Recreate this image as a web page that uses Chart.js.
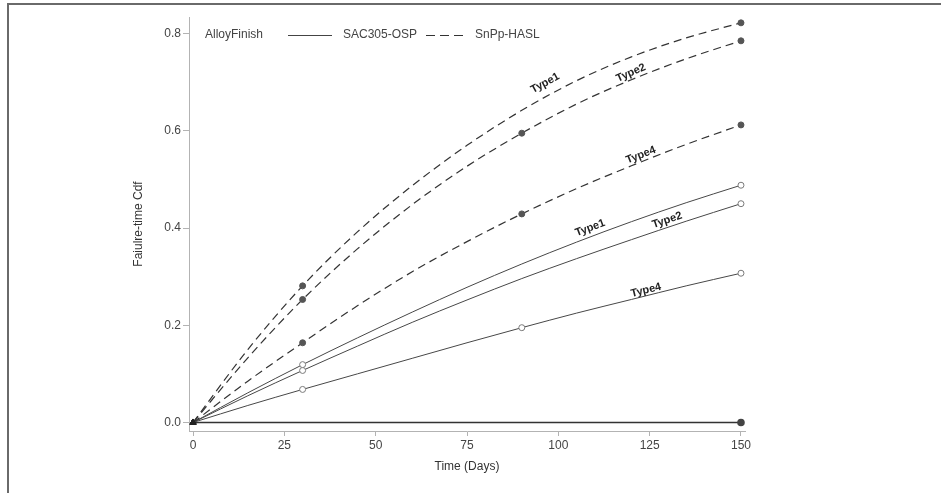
<!DOCTYPE html>
<html>
<head>
<meta charset="utf-8">
<script src="https://cdn.jsdelivr.net/npm/chart.js@4.4.0/dist/chart.umd.min.js"></script>
<style>
  html, body { margin: 0; padding: 0; background: #fff; overflow: hidden; }
  #frame { position: absolute; left: 7px; top: 3px; width: 980px; height: 540px;
           border-top: 2px solid #6a6a6a; border-left: 2px solid #6a6a6a; }
  #wrap { position: absolute; left: 0; top: 0; width: 941px; height: 493px; }
</style>
</head>
<body>
<div id="frame"></div>
<div id="wrap"><canvas id="myChart" width="941" height="493"></canvas></div>
<script>
// data
const days = [0, 15, 30, 45, 60, 75, 90, 105, 120, 135, 150];
const snType1 = [0, 0.150, 0.281, 0.392, 0.487, 0.570, 0.642, 0.703, 0.752, 0.791, 0.822];
const snType2 = [0, 0.133, 0.253, 0.357, 0.448, 0.527, 0.595, 0.655, 0.705, 0.748, 0.785];
const snType4 = [0, 0.085, 0.164, 0.240, 0.310, 0.372, 0.429, 0.481, 0.528, 0.572, 0.612];
const sacType1 = [0, 0.061, 0.119, 0.174, 0.227, 0.278, 0.326, 0.371, 0.413, 0.452, 0.488];
const sacType2 = [0, 0.055, 0.107, 0.157, 0.206, 0.252, 0.296, 0.337, 0.376, 0.414, 0.450];
const sacType4 = [0, 0.035, 0.068, 0.100, 0.132, 0.164, 0.195, 0.225, 0.253, 0.281, 0.307];
const zeroDays = [0, 150];
const zeroLine = [0, 0];

// observed points (markers)
const snType1Obs = [30, 150];
const snType2Obs = [30, 90, 150];
const snType4Obs = [30, 90, 150];
const sacType1Obs = [30, 150];
const sacType2Obs = [30, 150];
const sacType4Obs = [30, 90, 150];
const zeroObs = [150];

const xTicks = [0, 25, 50, 75, 100, 125, 150];
const yTicks = [0, 0.2, 0.4, 0.6, 0.8];

const legendTitle = "AlloyFinish";
const finishNames = ["SAC305-OSP", "SnPp-HASL"];

// curve labels: text, series, day, value (text centre)
const curveLabels = [
  { text: "Type1", series: "snType1", day: 96.4, value: 0.698 },
  { text: "Type2", series: "snType2", day: 119.9, value: 0.719 },
  { text: "Type4", series: "snType4", day: 122.6, value: 0.550 },
  { text: "Type1", series: "sacType1", day: 108.7, value: 0.400 },
  { text: "Type2", series: "sacType2", day: 129.8, value: 0.416 },
  { text: "Type4", series: "sacType4", day: 124.0, value: 0.272 },
];

const FONT = "'Liberation Sans', Arial, sans-serif";

function toPoints(xs, ys) {
  return xs.map((d, i) => ({ x: d, y: ys[i] }));
}

function makeSeries(id, xs, ys, obs, dashed) {
  return {
    label: id,
    data: toPoints(xs, ys),
    borderColor: dashed ? "#333" : "#474747",
    borderWidth: dashed ? 1.2 : 1,
    borderDash: dashed ? [8, 5] : [],
    cubicInterpolationMode: "monotone",
    pointStyle: (ctx) => (ctx.dataIndex === 0 ? "triangle" : "circle"),
    pointRadius: (ctx) => {
      if (ctx.dataIndex === 0) return 3.5;
      return obs.includes(xs[ctx.dataIndex]) ? 3 : 0;
    },
    pointBackgroundColor: (ctx) => {
      if (ctx.dataIndex === 0) return "#222";
      return dashed ? "#555" : "#fff";
    },
    pointBorderColor: (ctx) => {
      if (ctx.dataIndex === 0) return "#222";
      return dashed ? "#555" : "#7a7a7a";
    },
    pointBorderWidth: 1,
    pointHoverRadius: 0,
    clip: false,
  };
}

const datasets = [
  makeSeries("snType1", days, snType1, snType1Obs, true),
  makeSeries("snType2", days, snType2, snType2Obs, true),
  makeSeries("snType4", days, snType4, snType4Obs, true),
  makeSeries("sacType1", days, sacType1, sacType1Obs, false),
  makeSeries("sacType2", days, sacType2, sacType2Obs, false),
  makeSeries("sacType4", days, sacType4, sacType4Obs, false),
  {
    label: "zero",
    data: toPoints(zeroDays, zeroLine),
    borderColor: "#333",
    borderWidth: 1.6,
    pointStyle: "circle",
    pointRadius: (ctx) => (zeroObs.includes(zeroDays[ctx.dataIndex]) ? 3 : 0),
    pointBackgroundColor: "#444",
    pointBorderColor: "#444",
    clip: false,
  },
];

// legend inside the plot, drawn by hand
const insideLegend = {
  id: "insideLegend",
  afterDraw(chart) {
    const ctx = chart.ctx;
    const y = 35;
    ctx.save();
    ctx.font = "12px " + FONT;
    ctx.fillStyle = "#444";
    ctx.textBaseline = "middle";
    ctx.fillText(legendTitle, 205, y);
    ctx.strokeStyle = "#444";
    ctx.lineWidth = 1;
    ctx.beginPath();
    ctx.moveTo(288, y + 0.5);
    ctx.lineTo(332, y + 0.5);
    ctx.stroke();
    ctx.fillText(finishNames[0], 343, y);
    ctx.setLineDash([9, 5]);
    ctx.strokeStyle = "#333";
    ctx.beginPath();
    ctx.moveTo(426, y + 0.5);
    ctx.lineTo(467, y + 0.5);
    ctx.stroke();
    ctx.setLineDash([]);
    ctx.fillText(finishNames[1], 475, y);
    ctx.restore();
  },
};

// rotated labels along the curves
const curveText = {
  id: "curveText",
  afterDatasetsDraw(chart) {
    const ctx = chart.ctx;
    const xs = chart.scales.x;
    const ys = chart.scales.y;
    ctx.save();
    ctx.font = "bold 11px " + FONT;
    ctx.fillStyle = "#222";
    ctx.textAlign = "center";
    ctx.textBaseline = "middle";
    curveLabels.forEach((lab) => {
      const ds = chart.data.datasets.find((d) => d.label === lab.series);
      const pts = ds.data;
      let i = 0;
      while (i < pts.length - 2 && pts[i + 1].x <= lab.day) i++;
      const dx = xs.getPixelForValue(pts[i + 1].x) - xs.getPixelForValue(pts[i].x);
      const dy = ys.getPixelForValue(pts[i + 1].y) - ys.getPixelForValue(pts[i].y);
      const ang = Math.atan2(dy, dx);
      ctx.save();
      ctx.translate(xs.getPixelForValue(lab.day), ys.getPixelForValue(lab.value));
      ctx.rotate(ang);
      ctx.fillText(lab.text, 0, 0);
      ctx.restore();
    });
    ctx.restore();
  },
};

const ctx = document.getElementById("myChart").getContext("2d");
const myChart = new Chart(ctx, {
  type: "line",
  data: { datasets: datasets },
  options: {
    responsive: false,
    animation: false,
    events: [],
    layout: { padding: { left: 0, top: 17, right: 196, bottom: 0 } },
    plugins: { legend: { display: false }, tooltip: { enabled: false } },
    scales: {
      x: {
        type: "linear",
        min: -1.1,
        max: 151.1,
        afterBuildTicks: (s) => { s.ticks = xTicks.map((v) => ({ value: v })); },
        afterFit: (s) => { s.height = 62; },
        grid: { drawOnChartArea: false, tickLength: 5, color: "#b3b3b3" },
        border: { color: "#b3b3b3" },
        ticks: { color: "#444", padding: 2, maxRotation: 0, font: { size: 12, family: FONT } },
        title: {
          display: true, text: "Time (Days)", color: "#333",
          font: { size: 12, family: FONT }, padding: { top: 0, bottom: 19 },
        },
      },
      y: {
        type: "linear",
        min: -0.0175,
        max: 0.834,
        afterBuildTicks: (s) => { s.ticks = yTicks.map((v) => ({ value: v })); },
        afterFit: (s) => { s.width = 189; },
        grid: { drawOnChartArea: false, tickLength: 6, color: "#b3b3b3" },
        border: { color: "#b3b3b3" },
        ticks: {
          color: "#444", padding: 2, font: { size: 12, family: FONT },
          callback: (v) => v.toFixed(1),
        },
        title: {
          display: true, text: "Faiulre-time Cdf", color: "#333",
          font: { size: 12, family: FONT }, padding: { top: 131, bottom: 0 },
        },
      },
    },
  },
  plugins: [insideLegend, curveText],
});
</script>
</body>
</html>
